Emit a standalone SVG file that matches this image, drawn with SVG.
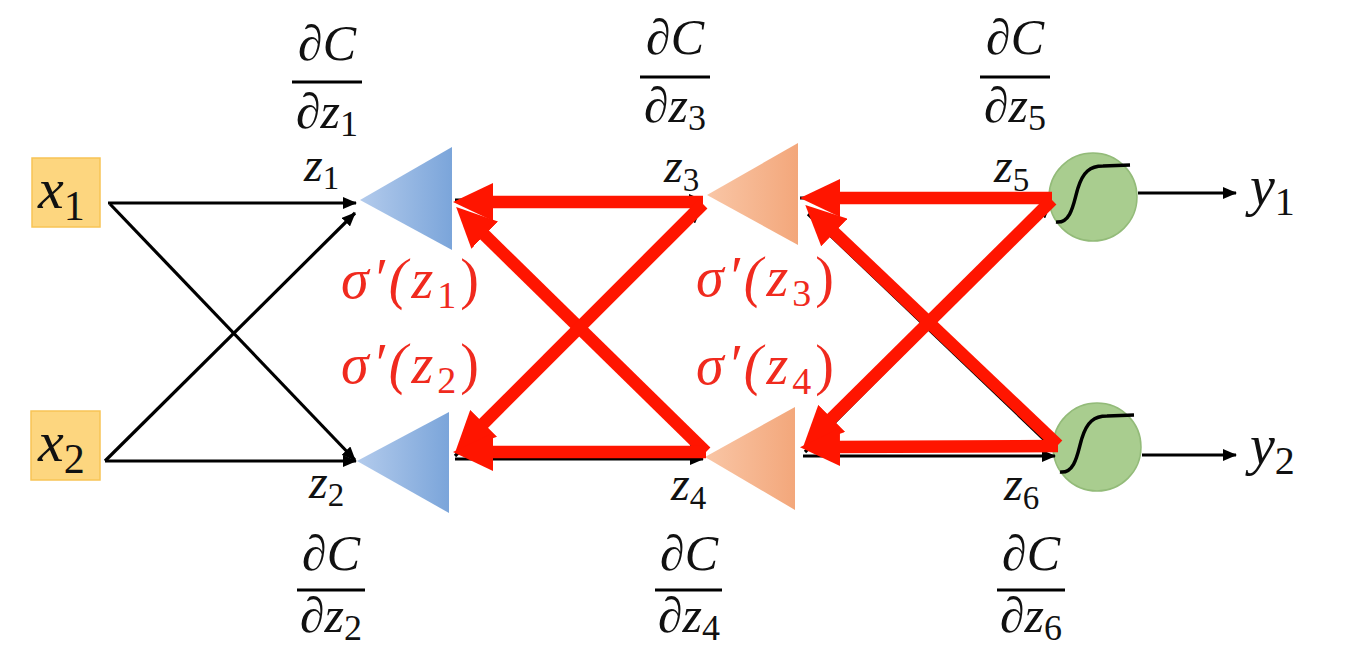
<svg xmlns="http://www.w3.org/2000/svg" width="1345" height="658" viewBox="0 0 1345 658">
<style>
.blk{stroke:#000;stroke-width:3.2;fill:none;marker-end:url(#ab)}
.rd{stroke:#ff1500;stroke-width:12.5;fill:none;marker-end:url(#ar)}
.bar{stroke:#000;stroke-width:3}
.sig{stroke:#000;stroke-width:3.5;fill:none}
.circ{fill:#a9cd8f;stroke:#93bb79;stroke-width:1.5}
.box{fill:#fdd67f;stroke:#f7c455;stroke-width:1.5}
</style>
<defs>
<linearGradient id="gb" x1="0" y1="0" x2="1" y2="0"><stop offset="0" stop-color="#b3cbec"/><stop offset="1" stop-color="#7ba5da"/></linearGradient>
<linearGradient id="go" x1="0" y1="0" x2="1" y2="0"><stop offset="0" stop-color="#f9c6a6"/><stop offset="1" stop-color="#f3a77b"/></linearGradient>
<marker id="ab" markerUnits="userSpaceOnUse" viewBox="0 0 14 12" markerWidth="14" markerHeight="12" refX="13" refY="6" orient="auto"><path d="M0,0 L14,6 L0,12 z" fill="#000"/></marker>
<marker id="ar" markerUnits="userSpaceOnUse" viewBox="0 0 40 38" markerWidth="40" markerHeight="38" refX="8" refY="19" orient="auto"><path d="M0,0 L40,19 L0,38 z" fill="#ff1500"/></marker>
</defs>
<rect width="1345" height="658" fill="#fff"/>

<g id="x1"><rect class="box" x="32" y="158" width="68" height="69"/><text font-family="Liberation Serif" font-style="italic" fill="#111" x="38" y="208" font-size="58">x<tspan font-style="normal" font-size="42" dy="12">1</tspan></text></g>
<g id="x2"><rect class="box" x="31" y="411" width="69" height="69"/><text font-family="Liberation Serif" font-style="italic" fill="#111" x="38" y="461" font-size="58">x<tspan font-style="normal" font-size="42" dy="12">2</tspan></text></g>

<g id="n1"><polygon points="360,200 452,147 452,250" fill="url(#gb)"/></g>
<g id="n2"><polygon points="357,461 449,412 449,513" fill="url(#gb)"/></g>
<g id="n3"><polygon points="707,195 798,143 798,245" fill="url(#go)"/></g>
<g id="n4"><polygon points="705,457 795,407 795,510" fill="url(#go)"/></g>
<g id="n5"><circle class="circ" cx="1093" cy="197" r="44"/><path class="sig" d="M1056,222 C1072,224 1074,200 1078,188 C1083,172 1090,166 1103,166 L1130,165"/></g>
<g id="n6"><circle class="circ" cx="1097" cy="447" r="44"/><path class="sig" d="M1060,472 C1076,474 1078,450 1082,438 C1087,422 1094,416 1107,416 L1134,415"/></g>

<g id="connectors">
<line class="blk" x1="108" y1="203" x2="356" y2="203"/>
<line class="blk" x1="110" y1="204" x2="355" y2="460"/>
<line class="blk" x1="105" y1="461" x2="355" y2="213"/>
<line class="blk" x1="105" y1="461" x2="356" y2="461"/>
<line class="blk" x1="455" y1="200" x2="702" y2="200"/>
<line class="blk" x1="462" y1="214" x2="702" y2="452"/>
<line class="blk" x1="455" y1="456" x2="700" y2="210"/>
<line class="blk" x1="455" y1="459" x2="703" y2="459"/>
<line class="blk" x1="800" y1="198" x2="1050" y2="198"/>
<line class="blk" x1="808" y1="214" x2="1054" y2="449"/>
<line class="blk" x1="805" y1="452" x2="1050" y2="205"/>
<line class="blk" x1="803" y1="456" x2="1055" y2="456"/>
<line class="blk" x1="1138" y1="193" x2="1236" y2="193"/>
<line class="blk" x1="1142" y1="455" x2="1236" y2="455"/>

<line class="rd" x1="703" y1="202" x2="485" y2="202"/>
<line class="rd" x1="706" y1="452" x2="479" y2="229.5"/>
<line class="rd" x1="703" y1="204" x2="478" y2="429"/>
<line class="rd" x1="706" y1="452" x2="485" y2="452"/>
<line class="rd" x1="1052" y1="198" x2="832" y2="198"/>
<line class="rd" x1="1058" y1="445" x2="828.5" y2="227"/>
<line class="rd" x1="1052" y1="200" x2="826" y2="424"/>
<line class="rd" x1="1058" y1="446" x2="832" y2="447"/>
</g>

<g id="labels" font-family="Liberation Serif" font-style="italic" fill="#111">
<text x="304" y="181" font-size="48">z<tspan font-style="normal" font-size="33" dy="8">1</tspan></text>
<text x="309" y="498" font-size="48">z<tspan font-style="normal" font-size="33" dy="8">2</tspan></text>
<text x="664" y="182" font-size="48">z<tspan font-style="normal" font-size="33" dy="9">3</tspan></text>
<text x="671" y="500" font-size="48">z<tspan font-style="normal" font-size="33" dy="9">4</tspan></text>
<text x="994" y="182" font-size="48">z<tspan font-style="normal" font-size="33" dy="9">5</tspan></text>
<text x="1004" y="500" font-size="48">z<tspan font-style="normal" font-size="33" dy="9">6</tspan></text>
<text x="1250" y="205" font-size="56">y<tspan font-style="normal" font-size="40" dy="10">1</tspan></text>
<text x="1250" y="464" font-size="56">y<tspan font-style="normal" font-size="40" dy="10">2</tspan></text>

<g fill="#f02a1e" font-size="56">
<text x="341" y="298" letter-spacing="4">σ′(z<tspan font-style="normal" font-size="38" dy="10">1</tspan><tspan font-style="normal" dy="-10">)</tspan></text>
<text x="341" y="383" letter-spacing="4">σ′(z<tspan font-style="normal" font-size="38" dy="10">2</tspan><tspan font-style="normal" dy="-10">)</tspan></text>
<text x="696" y="296" letter-spacing="4">σ′(z<tspan font-style="normal" font-size="38" dy="10">3</tspan><tspan font-style="normal" dy="-10">)</tspan></text>
<text x="696" y="384" letter-spacing="4">σ′(z<tspan font-style="normal" font-size="38" dy="10">4</tspan><tspan font-style="normal" dy="-10">)</tspan></text>
</g>

<g text-anchor="middle" font-size="50">
<text x="327" y="60">∂C</text><line class="bar" x1="292" y1="82" x2="362" y2="82"/><text x="327" y="128">∂z<tspan font-style="normal" font-size="36" dy="8">1</tspan></text>
<text x="675" y="54">∂C</text><line class="bar" x1="640" y1="77" x2="710" y2="77"/><text x="675" y="122">∂z<tspan font-style="normal" font-size="36" dy="8">3</tspan></text>
<text x="1015" y="54">∂C</text><line class="bar" x1="980" y1="77" x2="1050" y2="77"/><text x="1015" y="122">∂z<tspan font-style="normal" font-size="36" dy="8">5</tspan></text>
<text x="331" y="570">∂C</text><line class="bar" x1="297" y1="590" x2="365" y2="590"/><text x="331" y="632">∂z<tspan font-style="normal" font-size="36" dy="8">2</tspan></text>
<text x="689" y="570">∂C</text><line class="bar" x1="655" y1="590" x2="722" y2="590"/><text x="689" y="632">∂z<tspan font-style="normal" font-size="36" dy="8">4</tspan></text>
<text x="1031" y="570">∂C</text><line class="bar" x1="997" y1="590" x2="1065" y2="590"/><text x="1031" y="632">∂z<tspan font-style="normal" font-size="36" dy="8">6</tspan></text>
</g>
</g>
</svg>
